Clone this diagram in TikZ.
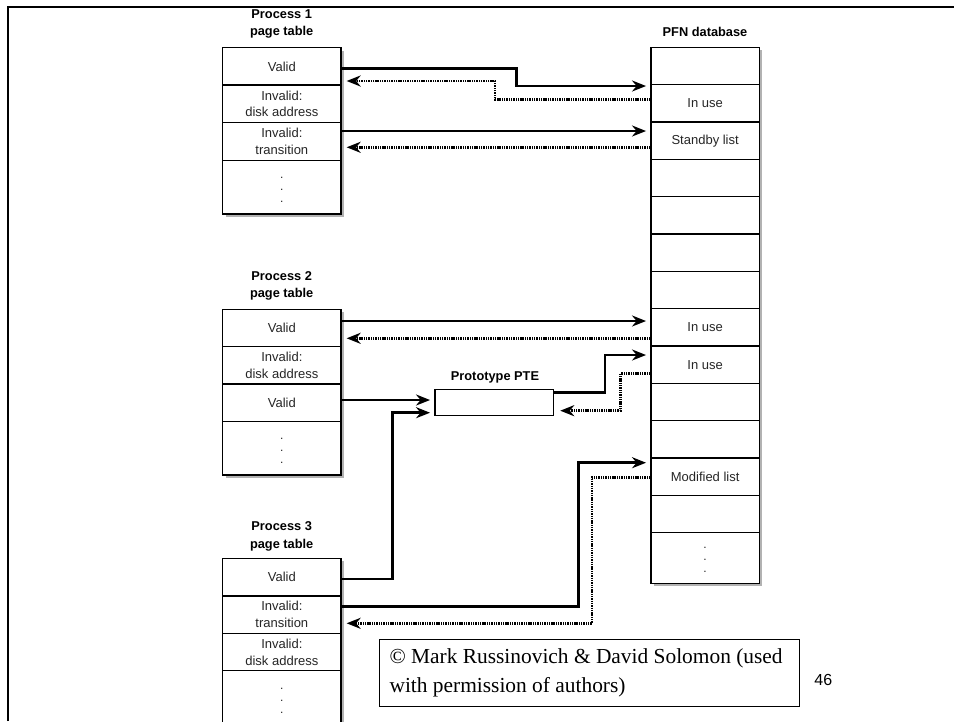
\documentclass[tikz,border=0pt]{standalone}
\usepackage{fontspec}
\setmainfont{Liberation Serif}
\newfontfamily\lsans{Liberation Sans}
\usetikzlibrary{arrows.meta,calc}
\begin{document}
\begin{tikzpicture}[x=1pt,y=-1pt,
  cell/.style={draw=black, fill=white, line width=1.3pt, minimum width=118.3pt, minimum height=37.4pt,
    inner sep=0pt, align=center, font=\lsans\fontsize{13}{16.7}\selectfont, text=black!85},
  tallcell/.style={cell, minimum height=53.7pt},
  pcell/.style={cell, minimum width=108.3pt, minimum height=37.34pt},
  dotstack/.style={inner sep=0pt, align=center, font=\lsans\fontsize{12}{12}\selectfont, text=black!85},
  protobox/.style={draw=black, fill=white, line width=1.3pt, minimum width=118.3pt, minimum height=26pt, inner sep=0pt},
  title/.style={align=center, font=\lsans\bfseries\fontsize{12.8}{17.7}\selectfont},
  shadowbox/.style={fill=black!30},
  sarr/.style={line width=2.9pt, -{Stealth[length=14pt,width=11pt]}, shorten >=4.3pt},
  darr/.style={line width=2.9pt, dash pattern=on 1.4pt off 0.9pt, -{Stealth[length=14pt,width=11pt]}, shorten >=5pt},
  frame/.style={line width=2.5pt}
]
\useasboundingbox (0,0) rectangle (954,721);
\clip (0,0) rectangle (954,721);
\fill[white] (0,0) rectangle (954,721);
\draw[frame] (8,721) -- (8,7) -- (954,7);

% titles
\node[title] (t1) at (281.7,24) {Process 1\\page table};
\node[title] (t2) at (281.7,285.9) {Process 2\\page table};
\node[title] (t3) at (281.7,536.2) {Process 3\\page table};
\node[title] (tp) at (705,31.7) {PFN database};
\node[title] (tpr) at (495,377.7) {Prototype PTE};

% shadows
\fill[shadowbox] (225.7,50.7) rectangle (344,217);
\fill[shadowbox] (225.7,312.3) rectangle (344,478);
\fill[shadowbox] (225.7,561.3) rectangle (344,730);
\fill[shadowbox] (654,50.3) rectangle (762.3,586.3);

% Process 1 page table
\node[cell] (p1r1) at (281.85,66.35) {Valid};
\node[cell] (p1r2) at (281.85,103.85) {Invalid:\\disk address};
\node[cell] (p1r3) at (281.85,141.5) {Invalid:\\transition};
\node[tallcell] (p1r4) at (281.85,187.15) {};
\node[dotstack] (p1d) at (281.85,190) {.\\.\\.};

% Process 2 page table
\node[cell] (p2r1) at (281.85,328) {Valid};
\node[cell] (p2r2) at (281.85,365.35) {Invalid:\\disk address};
\node[cell] (p2r3) at (281.85,402.65) {Valid};
\node[tallcell] (p2r4) at (281.85,448.15) {};
\node[dotstack] (p2d) at (281.85,450.5) {.\\.\\.};

% Process 3 page table
\node[cell] (p3r1) at (281.85,577.15) {Valid};
\node[cell] (p3r2) at (281.85,614.65) {Invalid:\\transition};
\node[cell] (p3r3) at (281.85,652) {Invalid:\\disk address};
\node[tallcell] (p3r4) at (281.85,697.5) {};
\node[dotstack] (p3d) at (281.85,700.5) {.\\.\\.};

% PFN database
\foreach \i/\t in {1/{},2/In use,3/Standby list,4/{},5/{},6/{},7/{},8/In use,9/In use,10/{},11/{},12/Modified list,13/{}}
  \node[pcell] (pfn\i) at (705.15,{47.3+37.34*(\i-0.5)}) {\t};
\node[pcell, minimum height=50.6pt] (pfn14) at (705.15,558) {};
\node[dotstack] (pfnd) at (705.15,560) {.\\.\\.};

% Prototype PTE
\node[protobox] (proto) at (494.15,402.3) {};

% Process 1 connectors
\draw[sarr] (p1r1.east |- 0,68.3) -- (516.7,68.3) -- (516.7,86) -- (pfn2.west |- 0,86);
\draw[darr] (pfn2.west |- 0,99.3) -- (495,99.3) -- (495,81) -- (p1r1.east |- 0,81);
\draw[sarr] (p1r3.east |- 0,131) -- (pfn3.west |- 0,131);
\draw[darr] (pfn3.west |- 0,147.3) -- (p1r3.east |- 0,147.3);

% Process 2 connectors
\draw[sarr] (p2r1.east |- 0,321) -- (pfn8.west |- 0,321);
\draw[darr] (pfn8.west |- 0,338.3) -- (p2r1.east |- 0,338.3);
\draw[sarr] (p2r3.east |- 0,400) -- (proto.west |- 0,400);

% Prototype connectors
\draw[sarr] (proto.east |- 0,392.7) -- (605,392.7) -- (605,355) -- (pfn9.west |- 0,355);
\draw[darr, shorten >=6.3pt] (pfn9.west |- 0,373.3) -- (620.7,373.3) -- (620.7,410.7) -- (proto.east |- 0,410.7);

% Process 3 connectors
\draw[sarr] (p3r1.east |- 0,579) -- (392.3,579) -- (392.3,412.7) -- (proto.west |- 0,412.7);
\draw[sarr] (p3r2.east |- 0,606.7) -- (578.3,606.7) -- (578.3,462.7) -- (pfn12.west |- 0,462.7);
\draw[darr] (pfn12.west |- 0,477.3) -- (592,477.3) -- (592,623.3) -- (p3r2.east |- 0,623.3);

% copyright box
\node[draw=black, line width=0.9pt, fill=white, minimum width=419.7pt, minimum height=67.4pt, inner sep=0pt] (copy) at (589.15,673) {};
\node[anchor=west, align=left, inner sep=0pt, font=\fontsize{21.4}{29}\selectfont] (copytext) at ([xshift=10.5pt]copy.west)
  {© Mark Russinovich \& David Solomon (used\\with permission of authors)};
\node[font=\lsans\fontsize{16}{18}\selectfont] (pg) at (823.3,680) {46};
\end{tikzpicture}
\end{document}
